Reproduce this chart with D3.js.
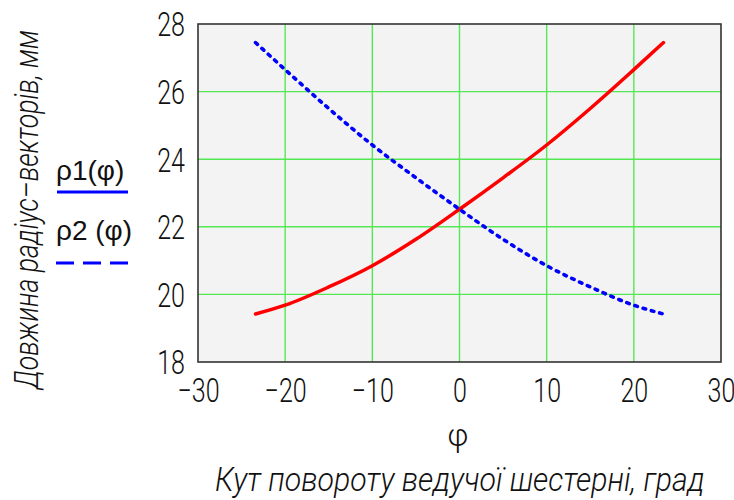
<!DOCTYPE html>
<html>
<head>
<meta charset="utf-8">
<script src="https://cdn.jsdelivr.net/npm/d3@7"></script>
<style>
  html, body { margin: 0; padding: 0; background: #fff; }
  svg { display: block; }
  .tick-label { font-family: Roboto, "DejaVu Sans", sans-serif; font-weight: 300; font-size: 33px; fill: #111; }
  .title { font-family: Roboto, "DejaVu Sans", sans-serif; font-weight: 300; font-style: italic; font-size: 33px; fill: #111; }
  .legend { font-family: "Liberation Sans", Arial, sans-serif; font-size: 28px; fill: #111; }
</style>
</head>
<body>
<svg id="chart" width="734" height="500"></svg>
<script>
// Rotation angle of the driving gear, degrees
const phi = [-23.4, -20, -15, -10, -5, 0, 5, 10, 15, 20, 23.4];
// Radius-vector lengths, mm
const rho1 = [19.42, 19.68, 20.22, 20.85, 21.63, 22.52, 23.45, 24.42, 25.50, 26.65, 27.45];
const rho2 = [27.45, 26.65, 25.50, 24.42, 23.45, 22.52, 21.63, 20.85, 20.22, 19.68, 19.42];

const xTicks = [-30, -20, -10, 0, 10, 20, 30];
const yTicks = [18, 20, 22, 24, 26, 28];

const xTitleSymbol = "φ";
const xTitle = "Кут  повороту ведучої шестерні, град";
const yTitle = "Довжина радіус–векторів, мм";
const legendLabels = ["ρ1(φ)", "ρ2 (φ)"];

const svg = d3.select("#chart");
const plot = { left: 198, right: 721, top: 24, bottom: 362 };
const narrow = 0.76; // horizontal squeeze for the drafting-style digits

const x = d3.scaleLinear().domain([-30, 30]).range([plot.left, plot.right]);
const y = d3.scaleLinear().domain([18, 28]).range([plot.bottom, plot.top]);

// plot background
svg.append("rect")
  .attr("x", plot.left).attr("y", plot.top)
  .attr("width", plot.right - plot.left).attr("height", plot.bottom - plot.top)
  .attr("fill", "#f3f3f3");

// grid
const grid = svg.append("g").attr("stroke", "#55e855").attr("stroke-width", 1.4);
grid.selectAll("line.vx").data(xTicks.slice(1, -1)).join("line")
  .attr("x1", d => x(d)).attr("x2", d => x(d))
  .attr("y1", plot.top).attr("y2", plot.bottom);
grid.selectAll("line.hy").data(yTicks.slice(1, -1)).join("line")
  .attr("x1", plot.left).attr("x2", plot.right)
  .attr("y1", d => y(d)).attr("y2", d => y(d));

// frame
svg.append("rect")
  .attr("x", plot.left).attr("y", plot.top)
  .attr("width", plot.right - plot.left).attr("height", plot.bottom - plot.top)
  .attr("fill", "none").attr("stroke", "#333").attr("stroke-width", 1.6);

// axes (labels only)
const fmt = d => (d < 0 ? "\u2212" + Math.abs(d) : String(d));
const xAxis = svg.append("g")
  .attr("transform", `translate(0,${plot.bottom})`)
  .call(d3.axisBottom(x).tickValues(xTicks).tickFormat(fmt).tickSize(0).tickPadding(0));
xAxis.select(".domain").remove();
xAxis.selectAll("text").attr("class", "tick-label").attr("dy", null).attr("y", 40)
  .attr("transform", `scale(${narrow},1)`);

const yAxis = svg.append("g")
  .attr("transform", `translate(${plot.left},0)`)
  .call(d3.axisLeft(y).tickValues(yTicks).tickFormat(fmt).tickSize(0).tickPadding(0));
yAxis.select(".domain").remove();
yAxis.selectAll("text").attr("class", "tick-label").attr("dy", "0.36em")
  .attr("x", -13 / narrow).attr("transform", `scale(${narrow},1)`);

[xAxis, yAxis].forEach(a => a.attr("font-size", null).attr("font-family", null));
svg.selectAll(".tick").attr("fill", null);

// curves
const line = d3.line().curve(d3.curveMonotoneX);
const pts1 = phi.map((p, i) => [x(p), y(rho1[i])]);
const pts2 = phi.map((p, i) => [x(p), y(rho2[i])]);

svg.append("path").attr("d", line(pts1))
  .attr("fill", "none").attr("stroke", "#ff0000").attr("stroke-width", 3.5)
  .attr("stroke-linecap", "round").attr("stroke-linejoin", "round");

svg.append("path").attr("d", line(pts2))
  .attr("fill", "none").attr("stroke", "#0000ff").attr("stroke-width", 3.6)
  .attr("stroke-linecap", "round").attr("stroke-dasharray", "2.6,6");

// axis titles
svg.append("text")
  .attr("x", 458).attr("y", 446).attr("text-anchor", "middle")
  .style("font-family", "Roboto, 'DejaVu Sans', sans-serif").style("font-weight", 300)
  .style("font-size", "31px").style("fill", "#111")
  .text(xTitleSymbol);

// fit a title to a given length by squeezing it horizontally
function fitTitle(sel, length) {
  const natural = sel.node().getComputedTextLength();
  return natural > 0 ? length / natural : 1;
}

const xt = svg.append("text").attr("class", "title").text(xTitle);
const sx = fitTitle(xt, 490);
xt.attr("transform", `translate(215,491) scale(${sx},1)`);

const yt = svg.append("text").attr("class", "title").text(yTitle);
const sy = fitTitle(yt, 359);
yt.attr("transform", `translate(38,389) rotate(-90) scale(${sy},1)`);

// legend
svg.append("text").attr("class", "legend").attr("x", 56).attr("y", 180).text(legendLabels[0]);
svg.append("line").attr("x1", 57).attr("x2", 128).attr("y1", 192).attr("y2", 192)
  .attr("stroke", "#0000ff").attr("stroke-width", 3);
svg.append("text").attr("class", "legend").attr("x", 56).attr("y", 240).text(legendLabels[1]);
svg.append("line").attr("x1", 56).attr("x2", 128).attr("y1", 263).attr("y2", 263)
  .attr("stroke", "#0000ff").attr("stroke-width", 3).attr("stroke-dasharray", "18,9");
</script>
</body>
</html>
